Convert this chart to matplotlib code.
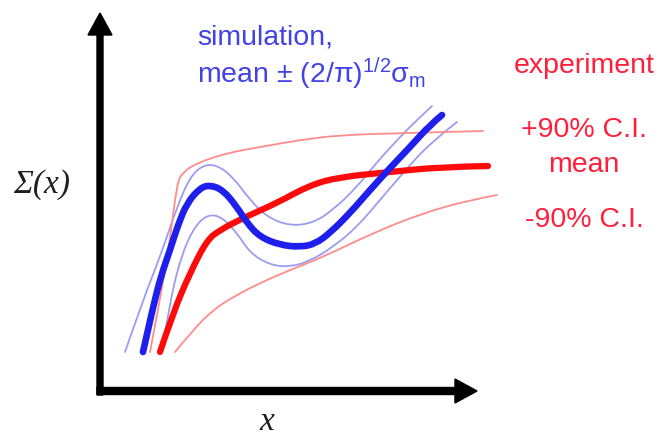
import matplotlib
matplotlib.use("Agg")
import matplotlib.pyplot as plt
from matplotlib.path import Path
from matplotlib.patches import PathPatch

plt.rcParams['font.family'] = ['Liberation Sans', 'DejaVu Sans']

# Schematic curves, coordinates relative to the axis corner
sim_mean_x = [43, 53, 61, 70, 78, 87, 100, 110, 123, 137, 147, 160, 180, 200, 215, 230, 250, 270, 290, 310, 330, 342]
sim_mean_y = [39, 84, 115, 141, 166, 188, 203, 206, 201, 184, 168, 154, 146, 144, 147, 158, 178, 201, 223, 244, 266, 276]

sim_up_x = [25, 43, 60, 77, 90, 103, 117, 133, 150, 167, 190, 213, 233, 257, 277, 300, 317, 332]
sim_up_y = [39, 91, 134, 184, 214, 226, 226, 214, 191, 174, 165, 168, 181, 204, 229, 254, 271, 285]

sim_lo_x = [62, 70, 83, 97, 110, 123, 137, 150, 170, 190, 210, 233, 257, 280, 303, 330, 357]
sim_lo_y = [39, 91, 141, 168, 177, 173, 158, 138, 126, 124, 130, 144, 164, 191, 218, 248, 269]

exp_mean_x = [60, 73, 90, 107, 120, 143, 177, 210, 240, 290, 340, 388]
exp_mean_y = [39, 78, 118, 151, 161, 173, 188, 206, 214, 219, 224, 225]

exp_up_x = [50, 60, 70, 77, 83, 97, 127, 160, 200, 240, 307, 383]
exp_up_y = [39, 91, 151, 208, 219, 228, 238, 244, 251, 256, 258, 260]

exp_lo_x = [75, 93, 113, 133, 160, 190, 223, 273, 323, 370, 397]
exp_lo_y = [39, 61, 81, 94, 108, 121, 134, 158, 178, 191, 196]

sim_label = ["simulation,", r"mean ± $\mathregular{(2/\pi)^{1/2}\sigma_m}$"]
exp_labels = ["experiment", "+90% C.I.", "mean", "-90% C.I."]

BLUE = '#1f1fec'
BLUE_THIN = '#9c9cf2'
BLUE_TXT = '#4242e6'
RED = '#ff0a0a'
RED_THIN = '#ff8c8c'
RED_TXT = '#ff1f3a'

fig = plt.figure(figsize=(6.6, 4.36), dpi=100)
ax = fig.add_axes([0, 0, 1, 1])
ax.set_xlim(-100, 560)
ax.set_ylim(-45, 391)
ax.axis('off')


def smooth_curve(xs, ys, color, lw, z):
    """Draw a smooth line using the read points as quadratic Bezier control points."""
    pts = list(zip(xs, ys))
    verts = [pts[0]]
    codes = [Path.MOVETO]
    for i in range(1, len(pts) - 1):
        if i < len(pts) - 2:
            end = ((pts[i][0] + pts[i + 1][0]) / 2, (pts[i][1] + pts[i + 1][1]) / 2)
        else:
            end = pts[i + 1]
        verts += [pts[i], end]
        codes += [Path.CURVE3, Path.CURVE3]
    patch = PathPatch(Path(verts, codes), facecolor='none', edgecolor=color, lw=lw,
                      capstyle='round', joinstyle='round', zorder=z)
    ax.add_patch(patch)


# thin bands
smooth_curve(sim_up_x, sim_up_y, BLUE_THIN, 1.3, 2)
smooth_curve(sim_lo_x, sim_lo_y, BLUE_THIN, 1.3, 2)
smooth_curve(exp_up_x, exp_up_y, RED_THIN, 1.3, 2)
smooth_curve(exp_lo_x, exp_lo_y, RED_THIN, 1.3, 2)
# means
smooth_curve(exp_mean_x, exp_mean_y, RED, 4.5, 3)
smooth_curve(sim_mean_x, sim_mean_y, BLUE, 4.8, 4)

# axes arrows
ax.arrow(0, -4, 0, 382, width=6, head_width=24, head_length=22,
         length_includes_head=True, color='black', zorder=5)
ax.arrow(-3, 0, 380, 0, width=7, head_width=24, head_length=22,
         length_includes_head=True, color='black', zorder=5)

# labels
ax.text(-58, 206, r"Σ(x)", family=['Liberation Serif', 'DejaVu Serif'], style='italic',
        fontsize=24, ha='center', va='center', color='#202020')
ax.text(167, -31, "x", family=['Liberation Serif', 'DejaVu Serif'], style='italic',
        fontsize=24, ha='center', va='center', color='#202020')

ax.text(97, 346, sim_label[0], color=BLUE_TXT, fontsize=20.5, ha='left', va='baseline')
ax.text(97, 308, sim_label[1], color=BLUE_TXT, fontsize=20.5, ha='left', va='baseline')

for lab, yb in zip(exp_labels, [318, 254, 219, 164]):
    ax.text(484, yb, lab, color=RED_TXT, fontsize=20.5, ha='center', va='baseline')

fig.savefig("out.png", dpi=100)
